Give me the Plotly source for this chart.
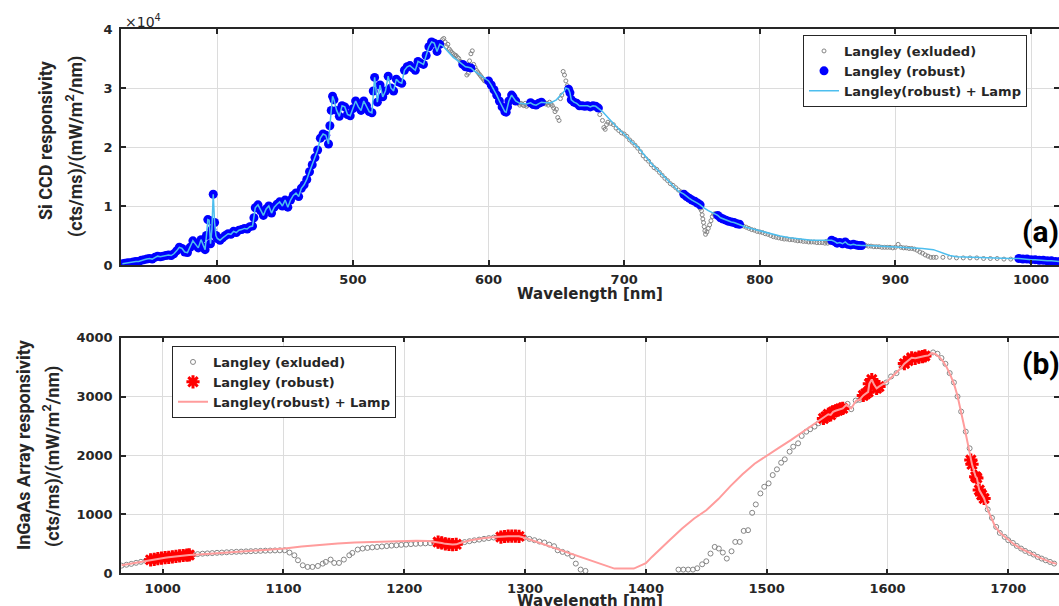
import plotly.graph_objects as go

# ---------------- Panel (a): Si CCD responsivity (values in units of 1e4) ----------------
si_robust_nm = [330, 332, 334, 336, 338, 340, 342, 344, 346, 348, 350, 352, 354, 356, 358, 360, 362, 364, 366, 368,
                370, 372, 374, 376, 378, 380, 382, 384, 386, 388, 390, 391, 392, 393, 394, 395, 396, 397, 398, 399,
                400, 402, 404, 406, 408, 410, 412, 414, 416, 418, 420, 422, 424, 426, 427, 428, 430, 432, 434, 436,
                438, 440, 442, 444, 446, 448, 450, 452, 454, 456, 458, 460, 462, 464, 466, 468, 470, 472, 474, 476,
                478, 480, 482, 483, 484, 485, 486, 488, 490, 492, 494, 496, 498, 500, 502, 504, 506, 508, 510, 512,
                514, 515, 516, 518, 520, 522, 524, 526, 528, 530, 532, 534, 536, 538, 540, 542, 544, 546, 548, 550,
                552, 554, 556, 558, 560, 562, 564,
                581, 583, 585, 587,
                600, 602, 604, 606, 608, 610, 612, 613, 614, 615, 617, 618, 620,
                631, 633, 635, 637, 639,
                659, 660, 661, 663, 665, 667, 669, 671, 673, 675, 677, 679, 681,
                744, 746, 748, 750, 752, 754, 756,
                769, 771, 773, 775, 777, 779, 781, 783, 785,
                853, 855, 857, 859, 861, 863, 865, 867, 869, 871, 873, 875,
                991, 994, 997, 1000, 1003, 1006, 1009, 1012, 1015, 1018, 1021]
si_robust_resp = [0.02, 0.03, 0.04, 0.04, 0.05, 0.06, 0.06, 0.08, 0.09, 0.10, 0.11, 0.10, 0.13, 0.15, 0.14, 0.15, 0.16, 0.17, 0.16, 0.19,
                  0.24, 0.30, 0.28, 0.22, 0.21, 0.30, 0.41, 0.35, 0.29, 0.43, 0.30, 0.26, 0.50, 0.77, 0.76, 0.36, 0.60, 1.20, 0.72, 0.50,
                  0.45, 0.42, 0.46, 0.50, 0.53, 0.52, 0.57, 0.55, 0.59, 0.60, 0.62, 0.61, 0.65, 0.66, 0.80, 0.97, 1.02, 0.92, 0.84, 0.95,
                  1.00, 0.88, 0.98, 1.03, 1.07, 1.00, 1.10, 0.98, 1.10, 1.18, 1.22, 1.16, 1.30, 1.36, 1.45, 1.58, 1.70, 1.82, 1.95, 2.15,
                  2.22, 2.20, 2.05, 2.36, 2.62, 2.86, 2.80, 2.62, 2.52, 2.70, 2.68, 2.55, 2.53, 2.65, 2.78, 2.68, 2.62, 2.78, 2.70, 2.60,
                  2.58, 2.95, 3.18, 2.76, 3.05, 2.85, 2.95, 3.20, 3.00, 2.95, 3.15, 3.10, 3.08, 3.30, 3.36, 3.38, 3.34, 3.30, 3.45, 3.42,
                  3.40, 3.55, 3.70, 3.78, 3.76, 3.62, 3.74,
                  3.40, 3.36, 3.35, 3.34,
                  3.12, 3.05, 2.97, 2.88, 2.78, 2.68, 2.60, 2.59, 2.68, 2.78, 2.88, 2.85, 2.78,
                  2.75, 2.72, 2.71, 2.74, 2.76,
                  2.98, 2.92, 2.80, 2.76, 2.74, 2.70, 2.70, 2.69, 2.70, 2.68, 2.70, 2.69, 2.66,
                  1.20, 1.16, 1.13, 1.10, 1.08, 1.05, 1.02,
                  0.84, 0.80, 0.78, 0.76, 0.74, 0.73, 0.72, 0.70, 0.69,
                  0.42, 0.40, 0.37, 0.38, 0.36, 0.39, 0.35, 0.34, 0.35, 0.34, 0.33, 0.33,
                  0.11, 0.10, 0.10, 0.09, 0.09, 0.08, 0.08, 0.07, 0.07, 0.06, 0.06]

# lamp-derived points that fill the gaps between robust Langley segments
si_lamp_nm = [566, 570, 574, 578, 589, 592, 595, 598, 623, 626, 628, 642, 646, 650, 653, 656, 657,
              684, 688, 692, 696, 700, 705, 710, 715, 720, 725, 730, 735, 740, 758, 762, 766,
              790, 795, 800, 808, 815, 822, 830, 838, 845, 850, 880, 890, 900, 910, 920, 928, 935, 940,
              945, 955, 965, 975, 985]
si_lamp_resp = [3.72, 3.62, 3.52, 3.45, 3.30, 3.25, 3.20, 3.15, 2.74, 2.73, 2.73, 2.75, 2.75, 2.80, 2.88, 2.95, 3.00,
                2.60, 2.50, 2.40, 2.30, 2.22, 2.10, 2.00, 1.86, 1.72, 1.60, 1.48, 1.36, 1.25, 0.98, 0.92, 0.87,
                0.64, 0.61, 0.58, 0.53, 0.49, 0.46, 0.44, 0.42, 0.42, 0.42, 0.33, 0.32, 0.31, 0.30, 0.28, 0.26, 0.20, 0.16,
                0.14, 0.13, 0.12, 0.12, 0.11]

si_excl_nm = [566, 567, 568, 569, 570, 571, 572, 573, 574, 575, 576, 577, 578, 579, 580, 584, 585, 586, 587, 588,
              589, 590, 591, 592, 593, 594, 595, 596, 597, 598,
              621, 622, 623, 624, 625, 626, 627, 628, 629, 630, 641, 642, 643, 644, 645, 646, 647, 648, 649, 650,
              651, 652, 653, 654, 655, 656, 657, 658,
              682, 684, 685, 686, 687, 688, 690, 692, 694, 696, 698, 700, 702, 704, 706, 708, 710, 712, 714, 716,
              718, 720, 722, 724, 726, 728, 730, 732, 734, 736, 738, 740, 742,
              756, 757, 757.5, 758, 758.5, 759, 759.5, 760, 761, 762, 763, 764, 765, 766, 767,
              786, 788, 790, 792, 794, 796, 798, 800, 802, 804, 806, 808, 810, 812, 814, 816, 818, 820, 822, 824,
              826, 828, 830, 832, 834, 836, 838, 840, 842, 844, 846, 848, 849, 850, 852,
              876, 878, 880, 882, 884, 886, 888, 890, 892, 894, 896, 898, 900, 902, 904, 906, 908, 910, 912, 914,
              916, 918, 920, 922, 924, 926, 928, 930, 935, 940, 945, 950, 955, 960, 965, 970, 975, 980, 985, 990]
si_excl_resp = [3.82, 3.84, 3.78, 3.70, 3.74, 3.66, 3.63, 3.60, 3.58, 3.56, 3.55, 3.52, 3.50, 3.45, 3.44, 3.22, 3.25, 3.46, 3.58, 3.63,
                3.40, 3.35, 3.30, 3.27, 3.24, 3.21, 3.18, 3.15, 3.12, 3.13,
                2.78, 2.74, 2.71, 2.74, 2.72, 2.70, 2.74, 2.69, 2.71, 2.73, 2.76, 2.73, 2.74, 2.71, 2.76, 2.73, 2.70, 2.66, 2.60, 2.64,
                2.50, 2.45, 2.82, 2.88, 3.28, 3.22, 3.12, 3.04,
                2.55, 2.45, 2.33, 2.30, 2.38, 2.42, 2.40, 2.38, 2.32, 2.28, 2.24, 2.22, 2.18, 2.12, 2.08, 2.03, 1.98, 1.92, 1.85, 1.80,
                1.76, 1.70, 1.65, 1.62, 1.57, 1.52, 1.47, 1.43, 1.38, 1.35, 1.31, 1.27, 1.24,
                0.96, 0.92, 0.85, 0.78, 0.72, 0.65, 0.58, 0.52, 0.56, 0.62, 0.68, 0.75, 0.82, 0.86, 0.87,
                0.68, 0.66, 0.64, 0.62, 0.60, 0.59, 0.57, 0.56, 0.55, 0.53, 0.52, 0.50, 0.48, 0.47, 0.46, 0.45, 0.44, 0.44, 0.43, 0.43,
                0.42, 0.41, 0.41, 0.40, 0.40, 0.39, 0.39, 0.39, 0.38, 0.38, 0.38, 0.37, 0.40, 0.37, 0.38,
                0.33, 0.33, 0.32, 0.32, 0.31, 0.31, 0.31, 0.30, 0.30, 0.30, 0.30, 0.29, 0.30, 0.35, 0.30, 0.29, 0.29, 0.28, 0.28, 0.27,
                0.25, 0.22, 0.20, 0.17, 0.15, 0.13, 0.13, 0.13, 0.13, 0.13, 0.12, 0.12, 0.12, 0.12, 0.11, 0.11, 0.11, 0.10, 0.10, 0.10]

# ---------------- Panel (b): InGaAs Array responsivity ----------------
ig_robust_nm = [990, 993, 996, 999, 1002, 1005, 1008, 1011, 1014, 1017, 1020, 1022,
                1228, 1231, 1234, 1237, 1240, 1243,
                1280, 1283, 1286, 1289, 1292, 1295,
                1547, 1549, 1551, 1553, 1555, 1557, 1559, 1561, 1563,
                1580, 1582, 1584, 1585, 1587, 1589, 1591, 1593,
                1614, 1617, 1620, 1623, 1626, 1629, 1631,
                1669, 1670, 1673, 1674, 1676, 1678, 1680]
ig_robust_resp = [228, 238, 250, 258, 265, 272, 280, 288, 295, 302, 308, 312,
                  530, 515, 500, 490, 488, 492,
                  615, 625, 630, 632, 630, 627,
                  2630, 2660, 2700, 2690, 2740, 2760, 2770, 2790, 2800,
                  3020, 3050, 3080, 3220, 3290, 3200, 3140, 3170,
                  3560, 3610, 3660, 3650, 3670, 3680, 3690,
                  1923, 1850, 1640, 1620, 1413, 1330, 1270]

ig_lamp_nm = [966, 975, 983, 988, 1030, 1045, 1060, 1076, 1090, 1101, 1115, 1131, 1145, 1159, 1175, 1190, 1200,
              1210, 1220, 1225, 1246, 1255, 1265, 1275, 1299, 1310, 1330, 1350, 1374, 1390, 1395, 1400, 1405,
              1410, 1420, 1430, 1440, 1450, 1460, 1470, 1480, 1490, 1500, 1510, 1520, 1530, 1540, 1566, 1570,
              1574, 1577, 1596, 1600, 1604, 1608, 1611, 1634, 1637, 1640, 1643, 1646, 1649, 1652, 1655, 1658,
              1661, 1664, 1667, 1683, 1686, 1689, 1693, 1697, 1700, 1705, 1710, 1715, 1720, 1725, 1730, 1735, 1740]
ig_lamp_resp = [136, 170, 205, 222, 320, 340, 360, 380, 400, 420, 455, 488, 505, 522, 535, 545, 550,
                553, 548, 538, 515, 562, 595, 615, 607, 530, 390, 250, 80, 80, 120, 170, 278,
                380, 570, 760, 930, 1070, 1260, 1480, 1680, 1860, 2000, 2130, 2260, 2400, 2540, 2860, 2800,
                2930, 2950, 3210, 3260, 3340, 3420, 3480, 3700, 3740, 3720, 3670, 3600, 3500, 3370, 3220, 3010,
                2750, 2450, 2150, 1080, 950, 800, 690, 620, 562, 490, 425, 370, 325, 275, 230, 190, 160]

ig_excl_nm = [966, 970, 974, 978, 982, 986,
              1025, 1029, 1033, 1037, 1041, 1045, 1049, 1053, 1057, 1061, 1065, 1069, 1073, 1077, 1081, 1085, 1089, 1093,
              1097, 1101, 1105, 1109, 1112, 1116, 1120, 1124, 1128.5, 1132.5, 1135, 1139, 1142, 1146, 1150, 1154.5,
              1157, 1161.5, 1165.5, 1169.5, 1173.5, 1177.5, 1181.5, 1185.5, 1189.5, 1193.5, 1197.5, 1201.5, 1205.5,
              1209.5, 1213.5, 1217.5, 1221.5, 1225,
              1246, 1250, 1254, 1258, 1262, 1266, 1270, 1274, 1278,
              1299.5, 1303.6, 1307.8, 1311.9, 1316, 1320, 1324, 1327, 1331, 1335, 1339, 1342, 1346, 1350,
              1427, 1431, 1435, 1439, 1442.5, 1446.6, 1450, 1453.5, 1457, 1460.4, 1463.7, 1467, 1470.9, 1474, 1477.7,
              1481, 1484.6, 1488, 1491, 1494.8, 1498, 1501.6, 1505, 1508.5, 1512, 1515, 1519, 1522, 1526, 1529,
              1532.8, 1536, 1539.6, 1543,
              1567, 1570, 1573.7, 1577, 1599, 1603, 1607.5, 1611.6,
              1633.7, 1637.8, 1641.4, 1644.7, 1648, 1651.5, 1655, 1658, 1661, 1664.8, 1668,
              1683, 1686.5, 1690, 1693, 1697, 1700, 1703.8, 1707, 1710.6, 1714, 1717.6, 1721, 1724.4, 1727.7, 1731,
              1734.6, 1738]
ig_excl_resp = [130, 145, 160, 178, 195, 212,
                318, 326, 333, 338, 343, 348, 352, 357, 361, 365, 368, 372, 375, 378, 381, 384, 386, 388,
                390, 391, 352, 306, 221, 136, 108, 108, 125, 164, 193, 233, 176, 176, 233, 306,
                346, 403, 420, 431, 440, 447, 455, 462, 470, 476, 483, 488, 495,
                500, 505, 508, 512, 515,
                510, 530, 545, 560, 572, 585, 597, 607, 612,
                607, 584, 562, 539, 522, 488, 460, 391, 363, 335, 289, 165, 63, 40,
                63, 63, 63, 63, 85, 153, 204, 335, 448, 420, 352, 250, 374, 533, 533,
                720, 732, 1027, 1169, 1356, 1469, 1527, 1668, 1765, 1878, 1935, 2065, 2150, 2207, 2332,
                2405, 2446, 2491, 2548,
                2877, 2786, 2933, 2945, 3240, 3342, 3399, 3512,
                3694, 3750, 3728, 3655, 3557, 3399, 3240, 3001, 2746, 2405, 2122,
                1084, 941, 788, 686, 618, 562, 516, 465, 420, 380, 346, 318, 278, 250, 221,
                193, 165]

x_ticks_a = [400, 500, 600, 700, 800, 900, 1000]
y_ticks_a = [0, 1, 2, 3, 4]
x_ticks_b = [1000, 1100, 1200, 1300, 1400, 1500, 1600, 1700]
y_ticks_b = [0, 1000, 2000, 3000, 4000]

legend_names = ["Langley (exluded)", "Langley (robust)", "Langley(robust) + Lamp"]


def merged(ax_, ay_, bx_, by_):
    pts = sorted(zip(list(ax_) + list(bx_), list(ay_) + list(by_)))
    return [p[0] for p in pts], [p[1] for p in pts]


si_line_nm, si_line_resp = merged(si_robust_nm, si_robust_resp, si_lamp_nm, si_lamp_resp)
ig_line_nm, ig_line_resp = merged(ig_robust_nm, ig_robust_resp, ig_lamp_nm, ig_lamp_resp)

W, H = 1059, 606
def px(x): return x / W
def py(y): return (H - y) / H

fig = go.Figure()

# panel a
fig.add_trace(go.Scatter(x=si_excl_nm, y=si_excl_resp, mode="markers", name=legend_names[0],
                         marker=dict(symbol="circle-open", size=4, color="#858585", line=dict(width=1, color="#858585")),
                         xaxis="x", yaxis="y", legend="legend"))
fig.add_trace(go.Scatter(x=si_robust_nm, y=si_robust_resp, mode="markers", name=legend_names[1],
                         marker=dict(symbol="circle", size=9, color="#0000FF", line=dict(width=0)),
                         xaxis="x", yaxis="y", legend="legend"))
fig.add_trace(go.Scatter(x=si_line_nm, y=si_line_resp, mode="lines", name=legend_names[2],
                         line=dict(color="#4DBEEE", width=1.5),
                         xaxis="x", yaxis="y", legend="legend"))
# panel b
fig.add_trace(go.Scatter(x=ig_excl_nm, y=ig_excl_resp, mode="markers", name=legend_names[0],
                         marker=dict(symbol="circle-open", size=5, color="#858585", line=dict(width=1, color="#858585")),
                         xaxis="x2", yaxis="y2", legend="legend2"))
fig.add_trace(go.Scatter(x=ig_robust_nm, y=ig_robust_resp, mode="markers", name=legend_names[1],
                         marker=dict(symbol="asterisk-open", size=11, color="#FF0000",
                                     line=dict(width=3, color="#FF0000")),
                         xaxis="x2", yaxis="y2", legend="legend2"))
fig.add_trace(go.Scatter(x=ig_line_nm, y=ig_line_resp, mode="lines", name=legend_names[2],
                         line=dict(color="#FF9C9C", width=2),
                         xaxis="x2", yaxis="y2", legend="legend2"))

tickfont = dict(family="DejaVu Sans", size=13, color="#262626", weight="bold")
common = dict(showline=True, linecolor="#262626", linewidth=1.5, mirror="ticks", ticks="inside",
              ticklen=5, tickwidth=1.5, tickcolor="#262626", showgrid=True, gridcolor="#DCDCDC",
              gridwidth=1, zeroline=False, tickfont=tickfont, automargin=False)

legend_font = dict(family="DejaVu Sans", size=13, color="#262626", weight="bold")
xdom = [px(121), 1.0]
fig.update_layout(
    width=W, height=H, margin=dict(l=0, r=0, t=0, b=0, autoexpand=False),
    paper_bgcolor="white", plot_bgcolor="white",
    xaxis=dict(domain=xdom, range=[329.0, 1020.6], tickvals=x_ticks_a, anchor="y",
               ticklabelstandoff=2, **common),
    yaxis=dict(domain=[py(265), py(29)], range=[0, 4], tickvals=y_ticks_a, anchor="x",
               ticklabelstandoff=4, **common),
    xaxis2=dict(domain=xdom, range=[965.5, 1742], tickvals=x_ticks_b, anchor="y2",
                ticklabelstandoff=2, **common),
    yaxis2=dict(domain=[py(573.3), py(337.7)], range=[0, 4000], tickvals=y_ticks_b, anchor="x2",
                ticklabelstandoff=4, **common),
    legend=dict(x=px(803), y=py(35), xanchor="left", yanchor="top", bgcolor="white",
                bordercolor="#262626", borderwidth=1, itemwidth=30, font=legend_font,
                tracegroupgap=0),
    legend2=dict(x=px(172), y=py(346), xanchor="left", yanchor="top", bgcolor="white",
                 bordercolor="#262626", borderwidth=1, itemwidth=30, font=legend_font,
                 tracegroupgap=0),
    showlegend=True,
)

title_font = dict(family="Liberation Sans Narrow, Roboto, sans-serif", size=18, color="#262626", weight="bold")
xt_font = dict(family="DejaVu Sans", size=15, color="#262626", weight="bold")
annots = [
    dict(text="×10<sup>4</sup>", x=px(123), y=py(21), xanchor="left", yanchor="middle",
         font=dict(family="DejaVu Sans", size=14, color="#262626")),
    dict(text="Si CCD responsivity", x=px(45), y=py(140), textangle=-90, font=title_font),
    dict(text="(cts/ms)/(mW/m<sup>2</sup>/nm)", x=px(74), y=py(147), textangle=-90, font=title_font),
    dict(text="InGaAs Array responsivity", x=px(23), y=py(445), textangle=-90, font=title_font),
    dict(text="(cts/ms)/(mW/m<sup>2</sup>/nm)", x=px(51), y=py(456), textangle=-90, font=title_font),
    dict(text="Wavelength [nm]", x=px(590), y=py(294), font=xt_font),
    dict(text="Wavelength [nm]", x=px(590), y=py(601), font=xt_font),
    dict(text="(a)", x=px(1040), y=py(232), font=dict(family="Liberation Sans Narrow, Roboto, sans-serif",
                                                      size=30, color="black", weight="bold")),
    dict(text="(b)", x=px(1041), y=py(364), font=dict(family="Liberation Sans Narrow, Roboto, sans-serif",
                                                      size=30, color="black", weight="bold")),
]
for a in annots:
    a.setdefault("xanchor", "center")
    a.setdefault("yanchor", "middle")
    fig.add_annotation(xref="paper", yref="paper", showarrow=False, **a)

fig.write_html("out.html")
